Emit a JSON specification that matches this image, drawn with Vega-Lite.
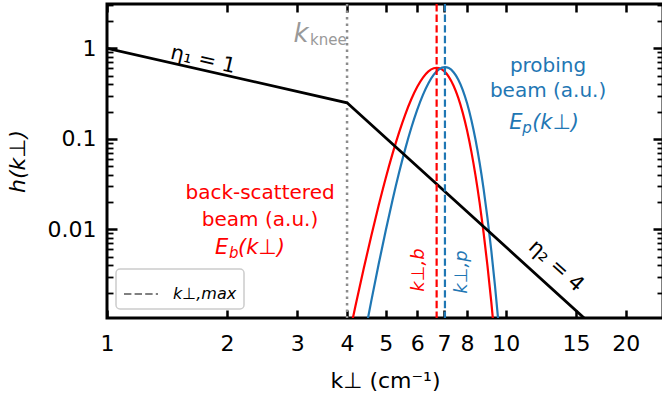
{
  "$schema": "https://vega.github.io/schema/vega-lite/v6.json",
  "width": 556,
  "height": 314,
  "autosize": {"type": "none"},
  "padding": {"left": 107, "top": 4, "right": 0, "bottom": 78},
  "config": {
    "font": "DejaVu Sans",
    "view": {"stroke": "black", "strokeWidth": 3},
    "axis": {"domain": false, "grid": false, "labelFont": "DejaVu Sans", "labelFontSize": 22, "labelColor": "black", "tickColor": "black", "titleFont": "DejaVu Sans", "titleFontSize": 22, "titleFontWeight": "normal", "titleColor": "black", "labelOverlap": false, "labelBound": false, "labelFlush": false},
    "legend": {"orient": "bottom-left", "offset": 9, "fillColor": "white", "strokeColor": "#cccccc", "strokeWidth": 1.5, "cornerRadius": 4, "padding": 7, "labelFont": "DejaVu Sans", "labelFontSize": 16, "labelFontStyle": "italic", "labelColor": "black", "symbolType": "stroke", "symbolStrokeWidth": 2, "symbolSize": 1156, "symbolStrokeColor": "#808080", "labelOffset": 14}
  },
  "datasets": {
    "black": [{"k": 1, "h": 1}, {"k": 4, "h": 0.25}, {"k": 16, "h": 0.000977}],
    "red": [
      {"k": 4.0, "h": 0.000524}, {"k": 4.2, "h": 0.001429}, {"k": 4.4, "h": 0.003614}, {"k": 4.6, "h": 0.008455}, {"k": 4.8, "h": 0.01829}, {"k": 5.0, "h": 0.03672}, {"k": 5.2, "h": 0.0682}, {"k": 5.4, "h": 0.1172}, {"k": 5.6, "h": 0.1867}, {"k": 5.8, "h": 0.2752}, {"k": 6.0, "h": 0.3758}, {"k": 6.2, "h": 0.4751}, {"k": 6.4, "h": 0.5562}, {"k": 6.6, "h": 0.6029}, {"k": 6.71, "h": 0.61}, {"k": 6.8, "h": 0.6053}, {"k": 7.0, "h": 0.5627}, {"k": 7.2, "h": 0.4843}, {"k": 7.4, "h": 0.386}, {"k": 7.6, "h": 0.2849}, {"k": 7.8, "h": 0.1947}, {"k": 8.0, "h": 0.1232}, {"k": 8.2, "h": 0.07221}, {"k": 8.4, "h": 0.03918}, {"k": 8.6, "h": 0.01969}, {"k": 8.8, "h": 0.009162}, {"k": 9.0, "h": 0.003947}, {"k": 9.2, "h": 0.001575}, {"k": 9.4, "h": 0.000582}
    ],
    "blue": [
      {"k": 4.4, "h": 0.000583}, {"k": 4.6, "h": 0.00161}, {"k": 4.8, "h": 0.004104}, {"k": 5.0, "h": 0.009661}, {"k": 5.2, "h": 0.02099}, {"k": 5.4, "h": 0.0421}, {"k": 5.6, "h": 0.07794}, {"k": 5.8, "h": 0.1332}, {"k": 6.0, "h": 0.2102}, {"k": 6.2, "h": 0.3062}, {"k": 6.4, "h": 0.4116}, {"k": 6.6, "h": 0.5109}, {"k": 6.8, "h": 0.5853}, {"k": 7.04, "h": 0.62}, {"k": 7.2, "h": 0.6043}, {"k": 7.4, "h": 0.5446}, {"k": 7.6, "h": 0.4531}, {"k": 7.8, "h": 0.3479}, {"k": 8.0, "h": 0.2467}, {"k": 8.2, "h": 0.1614}, {"k": 8.4, "h": 0.09753}, {"k": 8.6, "h": 0.05439}, {"k": 8.8, "h": 0.02799}, {"k": 9.0, "h": 0.01331}, {"k": 9.2, "h": 0.005836}, {"k": 9.4, "h": 0.002363}, {"k": 9.6, "h": 0.000884}
    ],
    "kmax": [{"k": 6.71, "beam": "b", "leg": "k⊥,max"}, {"k": 7.04, "beam": "p", "leg": "k⊥,max"}],
    "knee": [{"k": 4}]
  },
  "layer": [
    {
      "data": {"name": "knee"},
      "mark": {"type": "rule", "color": "#8c8c8c", "strokeWidth": 2.5, "strokeDash": [2.5, 4]},
      "encoding": {"x": {"field": "k", "type": "quantitative", "scale": {"type": "log", "domain": [1, 24.8], "nice": false}, "axis": null}}
    },
    {
      "data": {"name": "red"},
      "mark": {"type": "line", "color": "#ff0000", "strokeWidth": 2.2, "clip": true, "interpolate": "monotone"},
      "encoding": {
        "x": {"field": "k", "type": "quantitative", "axis": {"orient": "top", "values": [1, 2, 3, 4, 5, 6, 7, 8, 10, 15, 20], "labels": false, "tickSize": -8, "tickWidth": 2.5, "title": null}},
        "y": {"field": "h", "type": "quantitative", "axis": {"orient": "right", "values": [0.002, 0.003, 0.004, 0.005, 0.006, 0.007, 0.008, 0.009, 0.01, 0.02, 0.03, 0.04, 0.05, 0.06, 0.07, 0.08, 0.09, 0.1, 0.2, 0.3, 0.4, 0.5, 0.6, 0.7, 0.8, 0.9, 1, 2, 3], "labels": false, "title": null, "tickSize": {"condition": {"test": "datum.value == 0.01 || datum.value == 0.1 || datum.value == 1", "value": -10}, "value": -6}, "tickWidth": {"condition": {"test": "datum.value == 0.01 || datum.value == 0.1 || datum.value == 1", "value": 2.5}, "value": 1.8}}}
      }
    },
    {
      "data": {"name": "blue"},
      "mark": {"type": "line", "color": "#1f77b4", "strokeWidth": 2.2, "clip": true, "interpolate": "monotone"},
      "encoding": {
        "x": {"field": "k", "type": "quantitative", "axis": null},
        "y": {"field": "h", "type": "quantitative", "axis": null}
      }
    },
    {
      "data": {"name": "black"},
      "mark": {"type": "line", "color": "black", "strokeWidth": 2.8, "clip": true},
      "encoding": {
        "x": {"field": "k", "type": "quantitative", "axis": {"orient": "bottom", "values": [1, 2, 3, 4, 5, 6, 7, 8, 10, 15, 20], "format": "d", "tickSize": -8, "tickWidth": 2.5, "labelPadding": 23, "title": "k⊥ (cm⁻¹)", "titlePadding": 16}},
        "y": {"field": "h", "type": "quantitative", "scale": {"type": "log", "domain": [0.001047, 3.087], "nice": false}, "axis": {"orient": "left", "values": [0.002, 0.003, 0.004, 0.005, 0.006, 0.007, 0.008, 0.009, 0.01, 0.02, 0.03, 0.04, 0.05, 0.06, 0.07, 0.08, 0.09, 0.1, 0.2, 0.3, 0.4, 0.5, 0.6, 0.7, 0.8, 0.9, 1, 2, 3], "labelExpr": "datum.value == 1 ? '1' : datum.value == 0.1 ? '0.1' : datum.value == 0.01 ? '0.01' : ''", "labelPadding": 21, "tickSize": {"condition": {"test": "datum.value == 0.01 || datum.value == 0.1 || datum.value == 1", "value": -10}, "value": -6}, "tickWidth": {"condition": {"test": "datum.value == 0.01 || datum.value == 0.1 || datum.value == 1", "value": 2.5}, "value": 1.8}, "title": "h(k⊥)", "titleFontStyle": "italic", "titlePadding": 18}}
      }
    },
    {
      "data": {"name": "kmax"},
      "mark": {"type": "rule", "strokeWidth": 2.2},
      "encoding": {
        "x": {"field": "k", "type": "quantitative", "axis": null},
        "color": {"field": "beam", "type": "nominal", "scale": {"domain": ["b", "p"], "range": ["#ff0000", "#1f77b4"]}, "legend": null},
        "strokeDash": {"field": "leg", "type": "nominal", "scale": {"domain": ["k⊥,max"], "range": [[7.4, 3.2]]}, "legend": {"title": null, "symbolStrokeColor": "#808080"}}
      }
    },
    {
      "data": {"values": [{"k": 1.741, "h": 0.743, "t": "η₁ = 1"}]},
      "mark": {"type": "text", "fontSize": 21, "color": "black", "angle": 13, "align": "center", "baseline": "middle"},
      "encoding": {"x": {"field": "k", "type": "quantitative", "axis": null}, "y": {"field": "h", "type": "quantitative", "axis": null}, "text": {"field": "t"}}
    },
    {
      "data": {"values": [{"k": 13.37, "h": 0.00393, "t": "η₂ = 4"}]},
      "mark": {"type": "text", "fontSize": 21, "color": "black", "angle": 42, "align": "center", "baseline": "middle"},
      "encoding": {"x": {"field": "k", "type": "quantitative", "axis": null}, "y": {"field": "h", "type": "quantitative", "axis": null}, "text": {"field": "t"}}
    },
    {
      "data": {"values": [{"k": 3.066, "h": 1.174, "t": "k"}]},
      "mark": {"type": "text", "fontSize": 26, "fontStyle": "italic", "color": "#999999", "align": "center", "baseline": "alphabetic"},
      "encoding": {"x": {"field": "k", "type": "quantitative", "axis": null}, "y": {"field": "h", "type": "quantitative", "axis": null}, "text": {"field": "t"}}
    },
    {
      "data": {"values": [{"k": 3.23, "h": 1.088, "t": "knee"}]},
      "mark": {"type": "text", "fontSize": 15, "color": "#999999", "align": "left", "baseline": "alphabetic"},
      "encoding": {"x": {"field": "k", "type": "quantitative", "axis": null}, "y": {"field": "h", "type": "quantitative", "axis": null}, "text": {"field": "t"}}
    },
    {
      "data": {"values": [{"k": 12.77, "h": 0.6375, "t": "probing", "beam": "p"}, {"k": 12.77, "h": 0.337, "t": "beam (a.u.)", "beam": "p"}, {"k": 2.42, "h": 0.0249, "t": "back-scattered", "beam": "b"}, {"k": 2.42, "h": 0.01267, "t": "beam (a.u.)", "beam": "b"}]},
      "mark": {"type": "text", "fontSize": 20, "align": "center", "baseline": "middle"},
      "encoding": {"x": {"field": "k", "type": "quantitative", "axis": null}, "y": {"field": "h", "type": "quantitative", "axis": null}, "text": {"field": "t"}, "color": {"field": "beam", "type": "nominal", "legend": null}}
    },
    {
      "data": {"values": [{"k": 1.866, "h": 0.00533, "t": "E", "beam": "b"}, {"k": 2.131, "h": 0.00533, "t": "(k⊥)", "beam": "b"}, {"k": 10.2, "h": 0.1283, "t": "E", "beam": "p"}, {"k": 11.65, "h": 0.1283, "t": "(k⊥)", "beam": "p"}]},
      "mark": {"type": "text", "fontSize": 21, "fontStyle": "italic", "align": "left", "baseline": "alphabetic"},
      "encoding": {"x": {"field": "k", "type": "quantitative", "axis": null}, "y": {"field": "h", "type": "quantitative", "axis": null}, "text": {"field": "t"}, "color": {"field": "beam", "type": "nominal", "legend": null}}
    },
    {
      "data": {"values": [{"k": 2.023, "h": 0.00482, "t": "b", "beam": "b"}, {"k": 11.0, "h": 0.1159, "t": "p", "beam": "p"}]},
      "mark": {"type": "text", "fontSize": 15, "fontStyle": "italic", "align": "left", "baseline": "alphabetic"},
      "encoding": {"x": {"field": "k", "type": "quantitative", "axis": null}, "y": {"field": "h", "type": "quantitative", "axis": null}, "text": {"field": "t"}, "color": {"field": "beam", "type": "nominal", "legend": null}}
    },
    {
      "data": {"values": [{"k": 6.06, "h": 0.00355, "t": "k⊥,b", "beam": "b"}, {"k": 7.77, "h": 0.00337, "t": "k⊥,p", "beam": "p"}]},
      "mark": {"type": "text", "fontSize": 18, "fontStyle": "italic", "angle": 270, "align": "center", "baseline": "middle"},
      "encoding": {"x": {"field": "k", "type": "quantitative", "axis": null}, "y": {"field": "h", "type": "quantitative", "axis": null}, "text": {"field": "t"}, "color": {"field": "beam", "type": "nominal", "legend": null}}
    }
  ],
  "resolve": {"axis": {"x": "independent", "y": "independent"}}
}
